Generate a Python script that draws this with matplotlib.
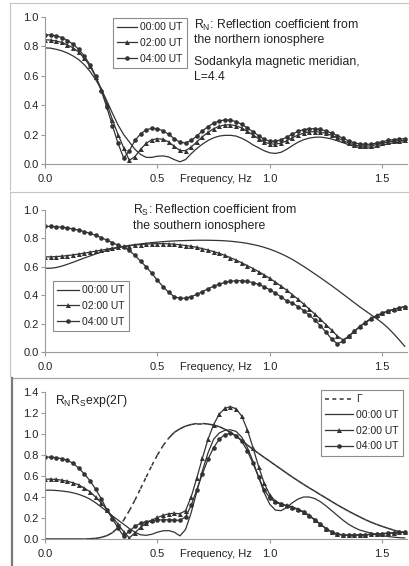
import numpy as np
import matplotlib
matplotlib.use("Agg")
import matplotlib.pyplot as plt
from matplotlib.collections import LineCollection
from matplotlib.lines import Line2D

plt.rcParams['font.family'] = ['Liberation Sans', 'DejaVu Sans']
plt.rcParams['mathtext.default'] = 'regular'

# ---------- DATA ----------
freq = [0.0, 0.025, 0.05, 0.075, 0.1, 0.125, 0.15, 0.175, 0.2, 0.225, 0.25, 0.275, 0.3,
        0.325, 0.35, 0.375, 0.4, 0.425, 0.45, 0.475, 0.5, 0.525, 0.55, 0.575, 0.6, 0.625,
        0.65, 0.675, 0.7, 0.725, 0.75, 0.775, 0.8, 0.825, 0.85, 0.875, 0.9, 0.925, 0.95,
        0.975, 1.0, 1.025, 1.05, 1.075, 1.1, 1.125, 1.15, 1.175, 1.2, 1.225, 1.25, 1.275,
        1.3, 1.325, 1.35, 1.375, 1.4, 1.425, 1.45, 1.475, 1.5, 1.525, 1.55, 1.575, 1.6]

# R_N, northern ionosphere
rn_00 = [.79, .788, .78, .77, .755, .735, .71, .675, .63, .575, .51, .43, .345,
         .265, .20, .15, .10, .065, .045, .045, .053, .055, .048, .03, .015, .03,
         .07, .105, .135, .16, .178, .19, .195, .195, .19, .175, .155, .13, .11,
         .09, .076, .072, .08, .10, .125, .148, .165, .176, .182, .183, .178, .17,
         .158, .145, .132, .12, .112, .108, .11, .118, .128, .137, .144, .148, .15]
rn_02 = [.845, .843, .837, .827, .81, .79, .76, .72, .665, .595, .51, .41, .30,
         .20, .11, .025, .05, .10, .14, .165, .172, .168, .15, .12, .092, .09,
         .115, .15, .185, .215, .24, .257, .266, .267, .26, .245, .222, .198, .172,
         .15, .137, .135, .142, .158, .178, .197, .21, .218, .22, .217, .208, .195,
         .178, .16, .143, .13, .122, .12, .124, .132, .141, .149, .155, .158, .16]
rn_04 = [.88, .878, .872, .86, .84, .815, .78, .735, .675, .60, .50, .385, .26,
         .14, .04, .09, .16, .205, .232, .243, .24, .226, .202, .172, .148, .143,
         .16, .19, .225, .255, .278, .293, .30, .298, .288, .27, .245, .22, .192,
         .168, .155, .155, .165, .183, .203, .222, .234, .24, .24, .235, .225, .21,
         .193, .175, .158, .145, .136, .133, .135, .143, .152, .16, .166, .17, .172]

# R_S, southern ionosphere
rs_00 = [.59, .59, .595, .605, .618, .632, .647, .662, .676, .69, .703, .715, .726,
         .735, .743, .75, .756, .761, .766, .77, .774, .777, .78, .782, .784, .785,
         .786, .787, .787, .787, .786, .785, .783, .78, .776, .771, .765, .757, .748,
         .737, .724, .709, .692, .673, .652, .628, .603, .577, .55, .523, .495, .467,
         .438, .408, .378, .348, .318, .29, .262, .234, .205, .17, .13, .086, .04]
rs_02 = [.67, .67, .672, .675, .679, .684, .69, .696, .703, .71, .717, .724, .731,
         .737, .743, .748, .753, .757, .76, .762, .763, .763, .762, .759, .755, .75,
         .744, .737, .728, .718, .707, .695, .68, .664, .647, .628, .608, .588, .566,
         .543, .518, .492, .464, .435, .404, .372, .338, .303, .267, .23, .192, .153,
         .113, .085, .11, .145, .18, .21, .237, .258, .275, .289, .301, .311, .32]
rs_04 = [.885, .884, .882, .879, .874, .867, .858, .848, .835, .822, .806, .788, .77,
         .752, .738, .715, .68, .64, .60, .555, .505, .46, .42, .39, .378, .38,
         .39, .405, .425, .445, .463, .478, .49, .498, .502, .502, .498, .489, .476,
         .459, .438, .414, .388, .36, .345, .32, .292, .26, .225, .185, .14, .09,
         .058, .075, .11, .145, .178, .206, .232, .254, .272, .287, .299, .31, .318]

# R_N R_S exp(2 Gamma) and Gamma
gamma = [0, 0, 0, 0, 0, 0, 0, 0, .002, .006, .015, .032, .06,
         .11, .18, .27, .37, .48, .59, .70, .80, .89, .96, 1.015, 1.05, 1.075,
         1.09, 1.10, 1.10, 1.095, 1.085, 1.07, 1.045, 1.015, .98, .94, .895, .855, .815,
         .777, .74, .702, .665, .627, .59, .555, .52, .487, .455, .422, .39, .357,
         .325, .295, .265, .237, .21, .184, .16, .139, .12, .102, .085, .07, .058]
rr_00 = [.465, .465, .462, .457, .45, .44, .425, .405, .38, .345, .305, .265, .22,
         .18, .14, .10, .065, .04, .035, .045, .065, .078, .08, .065, .03, .09,
         .25, .45, .65, .82, .95, 1.01, 1.035, 1.04, 1.025, .97, .87, .74, .59,
         .44, .33, .275, .27, .30, .345, .38, .40, .40, .385, .355, .315, .27,
         .225, .18, .14, .11, .085, .07, .055, .042, .032, .024, .018, .013, .01]
rr_02 = [.57, .57, .567, .56, .55, .535, .515, .485, .45, .40, .345, .28, .21,
         .14, .07, .01, .06, .11, .15, .18, .205, .225, .24, .245, .24, .27,
         .40, .58, .77, .95, 1.09, 1.19, 1.245, 1.26, 1.24, 1.17, 1.04, .87, .69,
         .53, .42, .36, .335, .32, .305, .285, .26, .225, .185, .14, .10, .065,
         .045, .037, .035, .036, .038, .04, .043, .046, .05, .054, .058, .062, .065]
rr_04 = [.78, .78, .775, .765, .75, .72, .675, .62, .555, .475, .385, .28, .19,
         .105, .025, .075, .12, .15, .165, .175, .18, .183, .183, .18, .178, .21,
         .32, .47, .62, .76, .87, .95, .995, 1.005, .985, .93, .84, .72, .59,
         .47, .39, .35, .33, .315, .30, .28, .255, .22, .18, .14, .10, .068,
         .048, .04, .038, .038, .04, .042, .045, .048, .052, .056, .06, .063, .066]

labels = ['00:00 UT', '02:00 UT', '04:00 UT']
xticks = [0.0, 0.5, 1.0, 1.5]

# ---------- STYLE ----------
W, H = 409, 566
LINE = '#333333'
AXC = '#9a9a9a'
TXT = '#222222'
DASH = (0, (2.6, 2.4))


def px_rect(left, top, right, bottom):
    return [left / W, 1 - bottom / H, (right - left) / W, (bottom - top) / H]


def px(x, y):
    return x / W, 1 - y / H


def style_axes(ax, ymax, ystep):
    ax.set_xlim(0, 1.61)
    ax.set_ylim(0, ymax)
    for s in ['top', 'right']:
        ax.spines[s].set_visible(False)
    for s in ['left', 'bottom']:
        ax.spines[s].set_color(AXC)
        ax.spines[s].set_linewidth(0.8)
    ax.set_xticks(xticks)
    ax.set_xticklabels([f"{t:.1f}" for t in xticks])
    yt = np.arange(0, ymax + 1e-6, ystep)
    ax.set_yticks(yt)
    ax.set_yticklabels([f"{t:.1f}" for t in yt])
    ax.tick_params(axis='x', direction='out', length=3, width=0.8, color=AXC,
                   pad=4.5, labelsize=8, labelcolor=TXT)
    ax.tick_params(axis='y', direction='out', length=3, width=0.8, color=AXC,
                   pad=1.5, labelsize=8, labelcolor=TXT)
    ax.annotate("Frequency, Hz", xy=(0.76, 0), xycoords=('data', 'axes fraction'),
                xytext=(0, -7.5), textcoords='offset points', ha='center', va='top',
                fontsize=8, color=TXT)
    ax.patch.set_alpha(0)


def plot_three(ax, y00, y02, y04):
    h0, = ax.plot(freq, y00, color=LINE, lw=0.9)
    h2, = ax.plot(freq, y02, color=LINE, lw=0.9, marker='^', ms=3.6, mew=0)
    h4, = ax.plot(freq, y04, color=LINE, lw=0.9, marker='o', ms=3.3, mew=0)
    return [h0, h2, h4]


def add_legend(fig, handles, names, x, y, hl=1.9):
    leg = fig.legend(handles, names, loc='upper left', bbox_to_anchor=px(x, y),
                     fontsize=7.5, handlelength=hl, handletextpad=0.3, borderpad=0.4,
                     labelspacing=0.55, numpoints=1, fancybox=False, framealpha=1,
                     edgecolor='#8c8c8c', borderaxespad=0)
    leg.get_frame().set_linewidth(0.8)
    for t in leg.get_texts():
        t.set_color(TXT)
    return leg


fig = plt.figure(figsize=(W / 100, H / 100), dpi=100)

# panel frames
frame_light = '#c4c4c4'
fig.add_artist(Line2D([px(10, 3)[0], 1], [px(10, 3)[1]] * 2, color=frame_light, lw=0.8))
fig.add_artist(Line2D([px(10, 0)[0]] * 2, [px(0, 3)[1], px(0, 190)[1]], color=frame_light, lw=0.8))
fig.add_artist(Line2D([px(10, 0)[0], 1], [px(0, 192)[1]] * 2, color=frame_light, lw=0.8))
fig.add_artist(Line2D([px(10, 0)[0]] * 2, [px(0, 192)[1], px(0, 376)[1]], color=frame_light, lw=0.8))
fig.add_artist(Line2D([px(11, 0)[0], 1], [px(0, 378)[1]] * 2, color='#a8a8a8', lw=0.9))
fig.add_artist(Line2D([px(11.5, 0)[0]] * 2, [px(0, 378)[1], 0], color='#7a7a7a', lw=1.6))

# ---------- PANEL 1: R_N ----------
ax1 = fig.add_axes(px_rect(45, 17, 407, 164))
style_axes(ax1, 1.0, 0.2)
h = plot_three(ax1, rn_00, rn_02, rn_04)
add_legend(fig, h, labels, 113, 18)
fig.text(*px(194, 25), "R$_{N}$: Reflection coefficient from", fontsize=8.8, color=TXT, va='center')
fig.text(*px(194, 40), "the northern ionosphere", fontsize=8.8, color=TXT, va='center')
fig.text(*px(194, 62), "Sodankyla magnetic meridian,", fontsize=8.8, color=TXT, va='center')
fig.text(*px(194, 77), "L=4.4", fontsize=8.8, color=TXT, va='center')

# ---------- PANEL 2: R_S ----------
ax2 = fig.add_axes(px_rect(45, 210, 407, 352))
style_axes(ax2, 1.0, 0.2)
h = plot_three(ax2, rs_00, rs_02, rs_04)
add_legend(fig, h, labels, 53, 281, hl=2.1)
fig.text(*px(133, 210), "R$_{S}$: Reflection coefficient from", fontsize=8.8, color=TXT, va='center')
fig.text(*px(133, 226), "the southern ionosphere", fontsize=8.8, color=TXT, va='center')

# ---------- PANEL 3: R_N R_S exp(2 Gamma) ----------
ax3 = fig.add_axes(px_rect(45, 392, 407, 539))
style_axes(ax3, 1.4, 0.2)
# Gamma: gaps only show on the steep segments (Excel-like dashed look)
pts = np.column_stack([freq, gamma])
segs = np.stack([pts[:-1], pts[1:]], axis=1)
disp = ax3.transData.transform(pts)
slope = np.abs(np.diff(disp[:, 1]) / np.diff(disp[:, 0]))
styles = [DASH if s > 1.2 else 'solid' for s in slope]
lc = LineCollection(segs, colors=LINE, linewidths=1.1, linestyles=styles)
ax3.add_collection(lc)
h = plot_three(ax3, rr_00, rr_02, rr_04)
g_handle = Line2D([], [], color=LINE, lw=1.1, dashes=(2.6, 2.2))
add_legend(fig, [g_handle] + h, ['Γ'] + labels, 321, 390, hl=2.7)
fig.text(*px(55, 401), "R$_{N}$R$_{S}$exp(2Γ)", fontsize=8.8, color=TXT, va='center')

fig.savefig("out.png", dpi=100)
